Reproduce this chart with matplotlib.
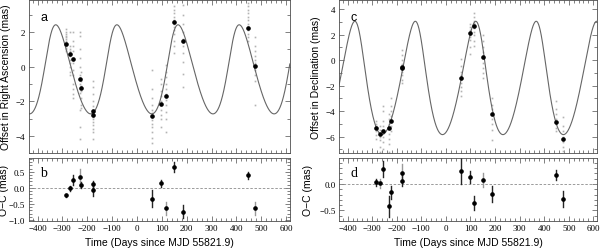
import numpy as np
import matplotlib
matplotlib.use("Agg")
import matplotlib.pyplot as plt
from matplotlib.ticker import MultipleLocator

# epochs (days since MJD 55821.9)
epochs = [-285, -268, -256, -230, -223, -178, -177, 60, 97, 116, 151, 186, 447, 475]

# right ascension: epoch means, residuals, errors
ra_mean = [1.33, 0.75, 0.46, -0.70, -1.24, -2.55, -2.78, -2.88, -2.16, -1.70, 2.59, 1.49, 2.24, 0.06]
ra_res = [-0.23, -0.01, 0.25, 0.35, 0.09, -0.06, 0.13, -0.33, 0.14, -0.63, 0.66, -0.74, 0.39, -0.64]
ra_err = [0.05, 0.08, 0.15, 0.25, 0.10, 0.20, 0.10, 0.25, 0.12, 0.20, 0.15, 0.20, 0.10, 0.20]
ra_errgray = [False, False, False, True, False, False, False, False, False, True, False, False, False, True]

# declination
dec_mean = [-5.37, -5.84, -5.53, -5.37, -4.82, -0.58, -0.55, -1.42, 2.13, 2.71, 0.21, -4.26, -4.87, -6.18]
dec_res = [0.03, 0.01, 0.28, -0.42, -0.16, 0.21, 0.06, 0.25, 0.13, -0.36, 0.08, -0.19, 0.17, -0.29]
dec_err = [0.07, 0.08, 0.15, 0.20, 0.12, 0.17, 0.10, 0.25, 0.12, 0.13, 0.13, 0.15, 0.10, 0.15]
dec_errgray = [False, True, False, False, False, True, False, False, False, False, True, False, False, False]

# individual measurements (grey), one list per epoch
ra_single = [
    [2.2, 2.0, 1.9, 1.8, 1.7, 1.6, 1.5, 1.4, 1.2, 1.1, 1.0, 0.9],
    [2.0, 1.2, 1.0, 0.9, 0.8, 0.6, 0.4, 0.2, 0.0, -0.3, -0.5],
    [2.0, 1.5, 1.2, 0.9, 0.5, 0.2, -0.2, -0.5, -1.0, -1.3, -1.6, -1.8],
    [2.0, 1.8, 1.0, 0.5, 0.0, -0.5, -0.7, -1.0, -1.3, -1.5, -2.5, -3.5, -4.2],
    [-0.3, -0.8, -1.1, -1.4, -1.8, -2.2, -2.4],
    [-0.8, -1.2, -1.6, -2.0, -2.3, -2.5, -2.7, -2.9],
    [-3.0, -3.2, -3.4, -3.6, -3.8, -4.2],
    [-0.2, -1.3, -1.8, -2.2, -2.5, -2.7, -2.9, -3.1, -3.3, -3.5, -3.8, -4.1, -4.4, -5.0],
    [-0.7, -1.0, -1.4, -1.7, -2.0, -2.2, -2.5, -2.8, -3.0, -3.5],
    [0.1, -0.3, -0.6, -1.0, -1.3, -1.6, -1.9, -2.2, -2.6, -3.0, -3.8],
    [3.5, 3.3, 3.1, 2.9, 2.7, 2.5, 2.3, 2.1, 1.9, 1.5, 1.2, 0.8],
    [3.6, 3.0, 2.5, 2.0, 1.6, 1.2, 0.8, 0.3, -0.4, -1.2],
    [3.7, 3.5, 3.3, 3.1, 2.9, 2.7, 2.5, 2.3, 2.1, 1.9, 1.7, 1.5],
    [1.7, 1.2, 0.9, 0.6, 0.4, 0.2, 0.0, -0.2, -0.5, -0.8, -2.2],
]
dec_single = [
    [-4.8, -5.0, -5.2, -5.4, -5.6, -5.9, -6.2],
    [-5.2, -5.5, -5.8, -6.0, -6.3, -6.8, -7.2],
    [-3.6, -4.0, -4.8, -5.2, -5.6, -6.0, -6.4, -7.0],
    [-4.2, -4.6, -5.0, -5.4, -5.8, -6.2, -6.6, -7.2],
    [-3.0, -3.6, -4.0, -4.4, -4.8, -5.2, -5.6],
    [0.8, 0.4, 0.0, -0.3, -0.6],
    [-0.9, -1.2, -1.6, -1.8],
    [0.1, -0.5, -0.9, -1.2, -1.5, -1.8, -2.1, -2.4, -2.8],
    [2.8, 2.6, 2.4, 2.2, 2.0, 1.8, 1.6, 1.0, 0.5],
    [3.7, 3.4, 3.1, 2.9, 2.7, 2.5, 2.2, 2.0, 1.5, 1.1],
    [2.0, 1.5, 1.0, 0.6, 0.2, -0.2, -0.6, -1.0, -1.4],
    [-3.0, -3.5, -3.8, -4.2, -4.6, -5.0, -5.5, -6.3],
    [-3.2, -3.8, -4.2, -4.6, -5.0, -5.3, -5.6],
    [-4.5, -5.2, -5.6, -6.0, -6.4, -6.8, -7.1],
]

# orbit model parameters
period = 246.0
t_peri = -107.6
ecc = 0.283
ra_c, ra_amp, ra_phi = -0.15, 2.58, 0.913
dec_c, dec_amp, dec_phi = -1.40, 4.45, -0.588


def ecc_anomaly(t):
    M = 2 * np.pi * (t - t_peri) / period
    E = M.copy()
    for i in range(30):
        E = M + ecc * np.sin(E)
    return E


serif = "Liberation Serif"
sans = "Liberation Sans"

fig = plt.figure(figsize=(6.0, 2.53), dpi=100)
ax_a = fig.add_axes([0.048, 0.391, 0.435, 0.604])
ax_b = fig.add_axes([0.048, 0.1225, 0.435, 0.249])
ax_c = fig.add_axes([0.565, 0.391, 0.43, 0.604])
ax_d = fig.add_axes([0.565, 0.1225, 0.43, 0.249])

tt = np.linspace(-440, 620, 1500)
E = ecc_anomaly(tt)


def style(ax, ymaj, ymin):
    ax.set_xlim(-435, 615)
    ax.xaxis.set_major_locator(MultipleLocator(100))
    ax.xaxis.set_minor_locator(MultipleLocator(20))
    ax.yaxis.set_major_locator(MultipleLocator(ymaj))
    ax.yaxis.set_minor_locator(MultipleLocator(ymin))
    ax.tick_params(which="both", direction="in", top=True, right=True, width=0.5, color="0.3")
    ax.tick_params(which="major", length=3.5, labelsize=6.5, pad=2.5)
    ax.tick_params(which="minor", length=2)
    for s in ax.spines.values():
        s.set_linewidth(0.6)
        s.set_color("0.3")
    for lab in ax.get_xticklabels() + ax.get_yticklabels():
        lab.set_fontfamily(serif)


def top_panel(ax, mean, single, c, amp, phi, ylabel, letter, ylim):
    for t, vals in zip(epochs, single):
        ax.plot([t] * len(vals), vals, "s", ms=1.2, color="0.7", mec="none")
    ax.plot(tt, c + amp * np.cos(E - phi), "-", color="0.4", lw=0.8)
    ax.plot(epochs, mean, "o", ms=2.3, color="k")
    ax.set_ylim(*ylim)
    style(ax, 2, 1)
    ax.tick_params(labelbottom=False)
    ax.set_ylabel(ylabel, fontsize=7.5, family=sans)
    ax.yaxis.set_label_coords(-0.07, 0.5)
    ax.text(0.045, 0.93, letter, transform=ax.transAxes, fontsize=9, family=sans, va="top")


def res_panel(ax, res, err, gray, letter, ylim, ymaj, labx):
    ax.axhline(0, color="0.55", lw=0.6, ls=(0, (3, 2)))
    for t, r, e, g in zip(epochs, res, err, gray):
        col = "0.6" if g else "0.15"
        ax.plot([t, t], [r - e, r + e], "-", color=col, lw=1.0)
    ax.plot(epochs, res, "o", ms=2.3, color="k")
    ax.set_ylim(*ylim)
    style(ax, ymaj, 0.1)
    ax.set_ylabel("O\u2212C (mas)", fontsize=7.5, family=sans)
    ax.yaxis.set_label_coords(labx, 0.5)
    ax.set_xlabel("Time (Days since MJD 55821.9)", fontsize=7.5, family=sans, labelpad=3)
    ax.text(0.045, 0.88, letter, transform=ax.transAxes, fontsize=10, family=serif, va="top")


top_panel(ax_a, ra_mean, ra_single, ra_c, ra_amp, ra_phi,
          "Offset in Right Ascension (mas)", "a", (-5.0, 3.85))
res_panel(ax_b, ra_res, ra_err, ra_errgray, "b", (-1.03, 0.93), 0.5, -0.075)
top_panel(ax_c, dec_mean, dec_single, dec_c, dec_amp, dec_phi,
          "Offset in Declination (mas)", "c", (-7.3, 4.7))
res_panel(ax_d, dec_res, dec_err, dec_errgray, "d", (-0.7, 0.49), 0.5, -0.10)

fig.savefig("out.png", dpi=100)
